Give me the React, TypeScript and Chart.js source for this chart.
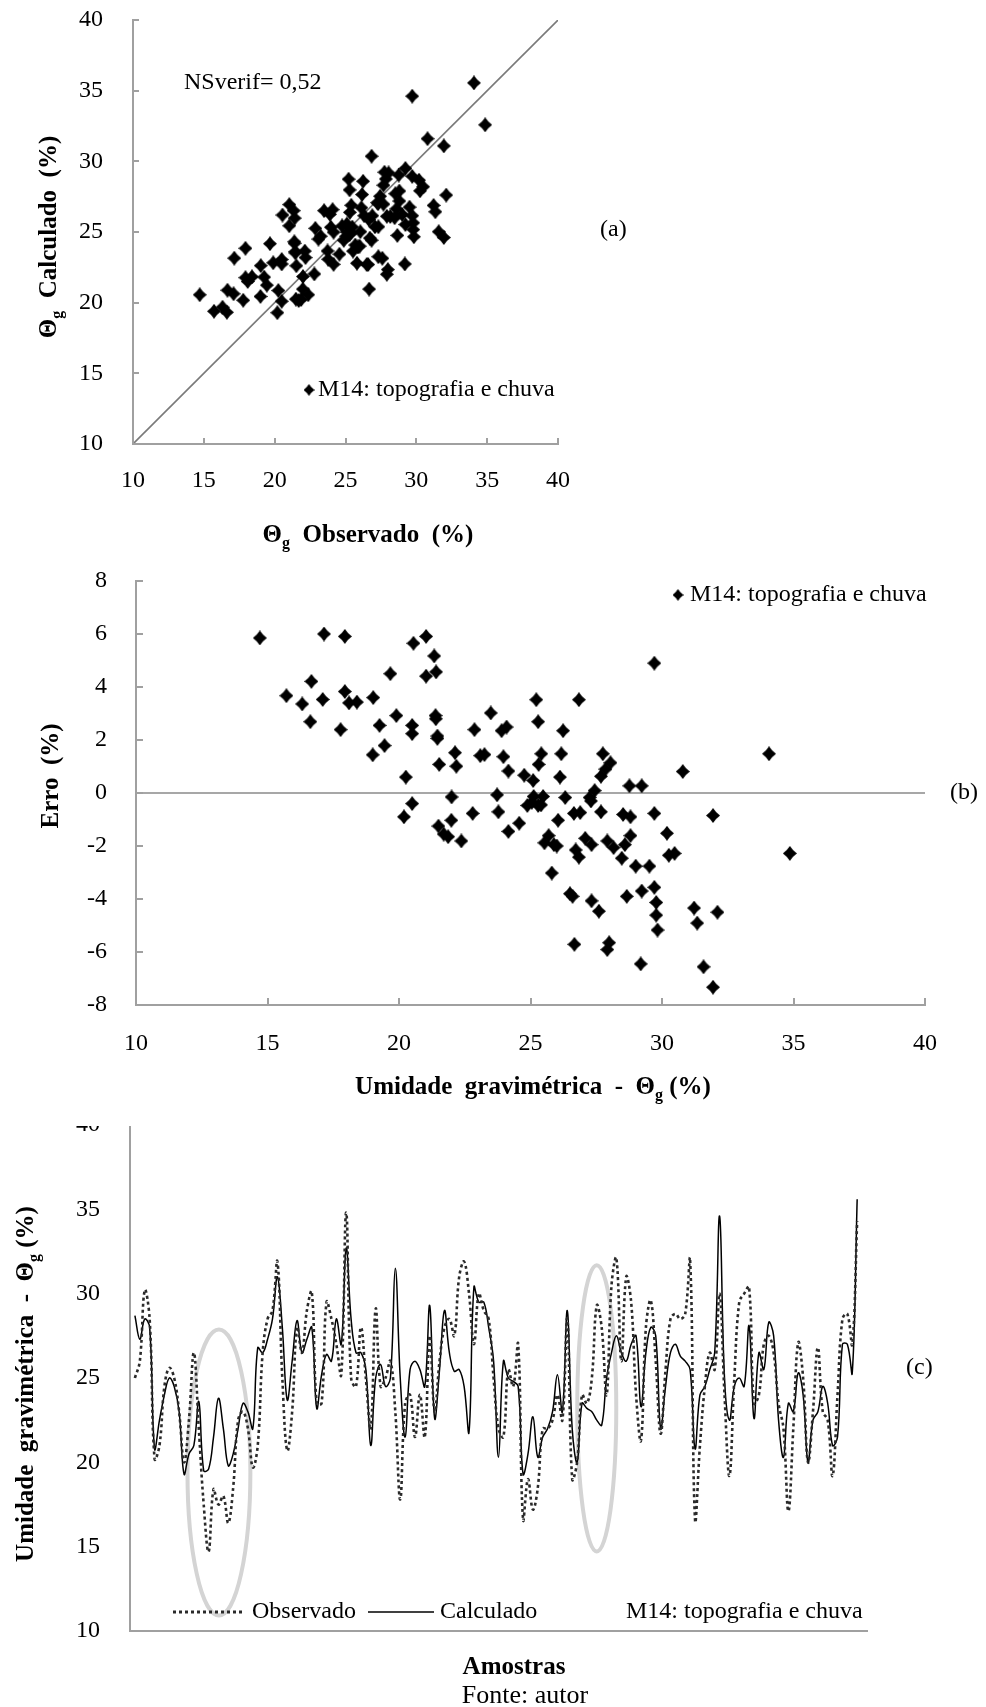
import React, { useEffect, useRef } from 'react';
import { Chart, registerables } from 'chart.js';

Chart.register(...registerables);

const FONT = "'Liberation Serif', 'Times New Roman', Times, serif";

// ---------- DATA ----------
// Observed gravimetric moisture (%) for each sample (charts a and b share it)
const observado = [
  14.71, 15.72, 16.32, 16.63, 16.67, 17.1, 17.15, 17.78, 17.94, 17.94,
  18.1, 18.4, 19.0, 19.02, 19.26, 19.45, 19.67, 19.9, 20.19, 20.26,
  20.5, 20.5, 20.5, 20.55, 21.03, 21.03, 21.34, 21.41, 21.39, 21.4,
  21.46, 21.46, 21.53, 21.5, 21.7, 21.87, 21.99, 22.0, 22.13, 22.18,
  22.37, 22.8, 22.87, 23.09, 23.25, 23.49, 23.73, 23.78, 23.9, 23.97,
  24.09, 24.16, 24.16, 24.57, 24.76, 24.88, 25.1, 25.12, 25.22, 25.29,
  25.31, 25.29, 25.41, 25.48, 25.53, 25.69, 25.81, 25.89, 26.05, 26.12,
  26.17, 26.24, 26.32, 26.5, 26.6, 26.65, 26.67, 26.72, 26.84, 26.84,
  26.89, 27.08, 27.25, 27.32, 27.32, 27.44, 27.6, 27.68, 27.68, 27.75,
  27.85, 27.92, 27.92, 27.99, 28.04, 28.16, 28.47, 28.52, 28.59, 28.66,
  28.76, 28.8, 28.8, 29.0, 29.23, 29.23, 29.19, 29.52, 29.71, 29.71,
  29.71, 29.78, 29.78, 29.83, 30.19, 30.26, 30.48, 30.79, 31.22, 31.34,
  31.58, 31.94, 31.94, 32.11, 34.07, 34.86, 25.05, 25.4, 26.0, 27.3,
];

// Chart (a): calculated moisture (%)
const calculadoA = [
  20.56, 19.39, 19.68, 19.32, 20.88, 20.63, 23.15, 20.17, 23.85, 21.77,
  21.5, 21.83, 20.44, 22.62, 21.81, 21.24, 24.17, 22.82, 19.29, 20.86,
  23.05, 22.74, 20.1, 26.2, 26.94, 25.44, 26.51, 25.98, 24.31, 24.2,
  23.61, 23.52, 22.61, 20.25, 20.15, 20.22, 20.96, 21.85, 23.65, 23.19,
  20.56, 22.03, 25.26, 24.5, 24.7, 26.51, 23.66, 23.07, 26.25, 25.34,
  26.58, 24.99, 22.71, 23.43, 25.43, 24.41, 25.57, 24.99, 28.74, 27.98,
  26.39, 24.82, 26.89, 25.35, 23.65, 24.08, 22.79, 23.94, 25.02, 26.72,
  27.65, 28.59, 26.15, 22.7, 22.7, 25.88, 20.96, 24.57, 24.42, 30.36,
  26.15, 25.37, 27.08, 25.37, 23.25, 27.53, 23.14, 26.97, 28.31, 29.23,
  28.75, 26.11, 22.01, 22.34, 29.18, 26.1, 26.01, 27.71, 26.64, 24.76,
  29.03, 27.19, 27.9, 26.24, 29.5, 25.53, 22.74, 26.76, 34.61, 28.94,
  26.15, 25.65, 25.17, 24.66, 28.67, 27.91, 28.2, 31.6, 26.88, 26.43,
  25.02, 31.09, 24.61, 27.61, 35.55, 32.58, 24.7, 24.95, 24.0, 27.0,
];

// Chart (b): error (%)
const erroB = [
  5.85, 3.67, 3.36, 2.69, 4.21, 3.53, 6.0, 2.39, 5.91, 3.83,
  3.4, 3.43, 1.44, 3.6, 2.55, 1.79, 4.5, 2.92, -0.9, 0.6,
  2.55, 2.24, -0.4, 5.65, 5.91, 4.41, 5.17, 4.57, 2.92, 2.8,
  2.15, 2.06, 1.08, -1.25, -1.55, -1.65, -1.03, -0.15, 1.52, 1.01,
  -1.81, -0.77, 2.39, 1.41, 1.45, 3.02, -0.07, -0.71, 2.35, 1.37,
  2.49, 0.83, -1.45, -1.14, 0.67, -0.47, 0.47, -0.13, 3.52, 2.69,
  1.08, -0.47, 1.48, -0.13, -1.88, -1.61, -3.02, -1.95, -1.03, 0.6,
  1.48, 2.35, -0.17, -3.8, -3.9, -0.77, -5.71, -2.15, -2.42, 3.52,
  -0.74, -1.71, -0.17, -1.95, -4.07, 0.09, -4.46, -0.71, 0.63, 1.48,
  0.9, -1.81, -5.91, -5.65, 1.14, -2.06, -2.46, -0.81, -1.95, -3.9,
  0.27, -1.61, -0.9, -2.76, 0.27, -3.7, -6.45, -2.76, 4.9, -0.77,
  -3.56, -4.13, -4.61, -5.17, -1.52, -2.35, -2.28, 0.81, -4.34, -4.91,
  -6.56, -0.85, -7.33, -4.5, 1.48, -2.28, -0.35, -0.45, -2.0, -0.3,
];

// Chart (c): series per sample
const serieObservado = [
  25.0, 26.0, 30.2, 28.5, 20.2, 21.0, 24.5, 25.6, 25.0, 23.0,
  20.0, 22.5, 26.5, 22.0, 17.5, 14.7, 18.4, 17.5, 18.0, 16.4,
  18.5, 22.5, 23.0, 22.0, 19.7, 21.0, 26.5, 28.5, 29.0, 31.9,
  25.0, 20.7, 23.0, 28.0, 26.5, 29.0, 30.1, 23.5, 23.5, 29.5,
  28.5, 27.0, 25.2, 34.8, 25.0, 24.5, 28.0, 25.0, 22.0, 29.1,
  24.5, 25.0, 26.0, 23.0, 17.8, 23.5, 24.0, 21.5, 24.0, 21.5,
  27.5, 23.0, 26.0, 28.0, 28.5, 27.5, 31.0, 31.9, 30.0, 27.0,
  30.0, 29.0, 28.5, 25.0, 22.0, 21.5, 25.5, 24.5, 27.0, 16.6,
  19.0, 17.2, 18.5, 22.0, 22.0, 22.5, 24.0, 22.5, 28.5, 19.0,
  20.0, 24.0, 23.5, 25.0, 29.3, 28.0, 24.0, 30.5, 32.1, 26.0,
  31.0, 29.5, 24.0, 21.3, 28.0, 29.6, 26.0, 21.7, 25.5, 28.5,
  28.8, 28.5, 28.8, 32.0, 16.6, 21.0, 24.5, 26.5, 25.5, 30.0,
  24.0, 19.2, 25.0, 29.5, 30.0, 30.4, 23.5, 24.0, 27.0, 27.5,
  26.5, 23.5, 22.0, 17.1, 22.0, 27.1, 25.0, 20.0, 23.0, 26.8,
  23.0, 22.5, 19.2, 24.0, 28.5, 28.8, 27.0, 34.3,
];
const serieCalculado = [
  28.7, 27.3, 28.5, 28.0, 20.8, 22.5, 24.0, 25.0, 24.5, 23.0,
  19.3, 20.5, 21.0, 23.6, 19.5, 19.6, 21.5, 23.8, 22.0, 19.8,
  20.5, 22.0, 23.5, 23.0, 22.0, 26.8, 26.5, 27.3, 28.5, 31.0,
  28.0, 23.7, 26.0, 28.4, 26.5, 27.3, 28.0, 23.2, 25.2, 26.4,
  26.0, 28.5, 27.0, 32.7, 28.5, 26.5, 26.5, 25.5, 21.0, 25.0,
  25.8, 24.5, 25.0, 31.5, 25.0, 21.5, 25.5, 26.0, 25.5, 24.5,
  29.3, 22.6, 25.5, 29.0, 26.5, 25.4, 25.5, 24.5, 21.8, 30.4,
  29.5, 29.5, 28.0, 26.0, 20.3, 26.0, 25.0, 24.8, 24.5, 19.3,
  20.5, 22.7, 20.3, 21.5, 22.0, 23.0, 25.2, 23.0, 29.0, 22.0,
  20.0, 23.5, 23.2, 23.0, 22.5, 22.2, 25.0, 26.5, 27.5, 26.5,
  26.0, 27.0, 27.5, 23.3, 26.5, 28.0, 27.5, 22.0, 24.5, 26.5,
  27.0, 26.3, 26.0, 25.5, 20.8, 24.0, 24.5, 25.5, 26.5, 34.6,
  25.0, 22.5, 24.5, 25.0, 24.5, 28.1, 22.6, 26.5, 25.5, 28.3,
  27.5, 22.5, 20.3, 23.5, 23.0, 25.3, 24.0, 20.0, 22.5, 23.0,
  24.5, 23.5, 21.0, 21.5, 27.0, 27.0, 25.3, 35.6,
];

const ticksA = [10, 15, 20, 25, 30, 35, 40];
const ticksBy = [-8, -6, -4, -2, 0, 2, 4, 6, 8];
const ticksC = [10, 15, 20, 25, 30, 35, 40];

// highlighted regions in (c): [center sample, center value, half-width samples, half-height value]
const destaquesC = [
  [18.1, 19.4, 6.4, 8.48],
  [95.0, 23.2, 3.97, 8.48],
];

// ---------- helpers ----------
type Part = { t: string; sub?: boolean };
type TextItem = {
  parts: Part[];
  x: number;
  y: number;
  size: number;
  bold?: boolean;
  align?: 'left' | 'center' | 'right';
  rot?: number;
};
type Seg = { x1: number; x2: number; y: number; dash?: number[]; width: number; color: string };
type StarMark = { x: number; y: number };

function makeStar(w: number, h: number): HTMLCanvasElement {
  const c = document.createElement('canvas');
  c.width = w;
  c.height = h;
  const ctx = c.getContext('2d')!;
  const cx = w / 2;
  const cy = h / 2;
  const k = 0.2;
  ctx.beginPath();
  ctx.moveTo(cx, 0);
  ctx.quadraticCurveTo(cx + w * k, cy - h * k, w, cy);
  ctx.quadraticCurveTo(cx + w * k, cy + h * k, cx, h);
  ctx.quadraticCurveTo(cx - w * k, cy + h * k, 0, cy);
  ctx.quadraticCurveTo(cx - w * k, cy - h * k, cx, 0);
  ctx.closePath();
  ctx.fillStyle = '#000';
  ctx.fill();
  return c;
}

function drawRich(ctx: CanvasRenderingContext2D, it: TextItem, offY: number) {
  ctx.save();
  ctx.translate(it.x, it.y - offY);
  if (it.rot) ctx.rotate(it.rot);
  ctx.textBaseline = 'middle';
  ctx.textAlign = 'left';
  ctx.fillStyle = '#000';
  const fontFor = (p: Part) =>
    `${it.bold ? 'bold ' : ''}${p.sub ? Math.round(it.size * 0.65) : it.size}px ${FONT}`;
  let total = 0;
  const widths = it.parts.map((p) => {
    ctx.font = fontFor(p);
    const w = ctx.measureText(p.t).width;
    total += w;
    return w;
  });
  let x = it.align === 'left' ? 0 : it.align === 'right' ? -total : -total / 2;
  it.parts.forEach((p, i) => {
    ctx.font = fontFor(p);
    ctx.fillText(p.t, x, p.sub ? it.size * 0.3 : 0);
    x += widths[i];
  });
  ctx.restore();
}

function makeDecor(cfg: {
  offY: number;
  texts: TextItem[];
  stars?: StarMark[];
  starImg?: HTMLCanvasElement;
  segs?: Seg[];
  xTicks?: number[];
  yTicks?: number[];
  tickLen?: number;
  ellipses?: number[][];
}) {
  return {
    id: 'decor',
    beforeDatasetsDraw(chart: any) {
      if (!cfg.ellipses) return;
      const ctx = chart.ctx as CanvasRenderingContext2D;
      const xs = chart.scales.x;
      const ys = chart.scales.y;
      ctx.save();
      ctx.strokeStyle = '#d4d4d4';
      ctx.lineWidth = 4;
      cfg.ellipses.forEach(([cx, cy, rx, ry]) => {
        const px = xs.getPixelForValue(cx);
        const py = ys.getPixelForValue(cy);
        const prx = Math.abs(xs.getPixelForValue(cx + rx) - px);
        const pry = Math.abs(ys.getPixelForValue(cy + ry) - py);
        ctx.beginPath();
        ctx.ellipse(px, py, prx, pry, 0, 0, Math.PI * 2);
        ctx.stroke();
      });
      ctx.restore();
    },
    afterDraw(chart: any) {
      const ctx = chart.ctx as CanvasRenderingContext2D;
      const xs = chart.scales.x;
      const ys = chart.scales.y;
      const area = chart.chartArea;
      const len = cfg.tickLen ?? 6;
      ctx.save();
      ctx.strokeStyle = '#a0a0a0';
      ctx.lineWidth = 2;
      if (len > 0) {
        (cfg.xTicks || []).forEach((v) => {
          const px = Math.round(xs.getPixelForValue(v));
          ctx.beginPath();
          ctx.moveTo(px, area.bottom);
          ctx.lineTo(px, area.bottom - len);
          ctx.stroke();
        });
        (cfg.yTicks || []).forEach((v) => {
          const py = Math.round(ys.getPixelForValue(v));
          ctx.beginPath();
          ctx.moveTo(area.left, py);
          ctx.lineTo(area.left + len, py);
          ctx.stroke();
        });
      }
      (cfg.segs || []).forEach((s) => {
        ctx.save();
        ctx.strokeStyle = s.color;
        ctx.lineWidth = s.width;
        ctx.setLineDash(s.dash || []);
        ctx.beginPath();
        ctx.moveTo(s.x1, s.y - cfg.offY);
        ctx.lineTo(s.x2, s.y - cfg.offY);
        ctx.stroke();
        ctx.restore();
      });
      if (cfg.starImg) {
        const im = cfg.starImg;
        (cfg.stars || []).forEach((s) => {
          ctx.drawImage(im, s.x - im.width / 2, s.y - cfg.offY - im.height / 2);
        });
      }
      cfg.texts.forEach((t) => drawRich(ctx, t, cfg.offY));
      ctx.restore();
    },
  };
}

const tickFont = { family: FONT, size: 24 };
const borderStyle = { color: '#a0a0a0', width: 2 };

function fixX(h: number) {
  return (s: any) => {
    s.height = h;
    s.paddingLeft = 0;
    s.paddingRight = 0;
  };
}
function fixY(w: number) {
  return (s: any) => {
    s.width = w;
    s.paddingTop = 0;
    s.paddingBottom = 0;
  };
}

const TITLE_SIZE = 25;
const umidadeParts: Part[] = [
  { t: 'Umidade  gravimétrica  -  Θ' },
  { t: 'g', sub: true },
  { t: ' (%)' },
];

// chart (c) canvas placement: canvas top, and where it is visibly cut
const C_TOP = 1122;
const C_CLIP = 1126;

export default function App() {
  const refA = useRef<HTMLCanvasElement>(null);
  const refB = useRef<HTMLCanvasElement>(null);
  const refC = useRef<HTMLCanvasElement>(null);

  useEffect(() => {
    const star = makeStar(14, 15);
    const starSmall = makeStar(11, 12);

    const chartA = new Chart(refA.current!, {
      type: 'scatter',
      data: {
        datasets: [
          {
            label: 'M14: topografia e chuva',
            data: observado.map((x, i) => ({ x, y: calculadoA[i] })),
            pointStyle: star as any,
            pointRadius: 7,
            backgroundColor: '#000',
            borderColor: '#000',
          },
          {
            label: '1:1',
            data: [
              { x: 10, y: 10 },
              { x: 40, y: 40 },
            ],
            showLine: true,
            pointRadius: 0,
            borderColor: '#7a7a7a',
            borderWidth: 1.6,
          },
        ],
      },
      options: {
        animation: false,
        responsive: false,
        devicePixelRatio: 1,
        layout: { padding: { left: 0, top: 20, right: 428, bottom: 56 } },
        plugins: { legend: { display: false }, tooltip: { enabled: false } },
        scales: {
          x: {
            type: 'linear',
            min: 10,
            max: 40,
            ticks: { stepSize: 5, font: tickFont, color: '#000', padding: 14, maxRotation: 0 },
            grid: { display: false },
            border: borderStyle,
            afterFit: fixX(60),
          },
          y: {
            type: 'linear',
            min: 10,
            max: 40,
            ticks: { stepSize: 5, font: tickFont, color: '#000', padding: 22 },
            grid: { display: false },
            border: borderStyle,
            afterFit: fixY(133),
          },
        },
      },
      plugins: [
        makeDecor({
          offY: 0,
          xTicks: ticksA,
          yTicks: ticksA,
          tickLen: 6,
          starImg: starSmall,
          stars: [{ x: 309, y: 390 }],
          texts: [
            { parts: [{ t: 'NSverif= 0,52' }], x: 184, y: 83, size: 24, align: 'left' },
            { parts: [{ t: 'M14: topografia e chuva' }], x: 318, y: 390, size: 24, align: 'left' },
            { parts: [{ t: '(a)' }], x: 600, y: 230, size: 24, align: 'left' },
            {
              parts: [{ t: 'Θ' }, { t: 'g', sub: true }, { t: '  Observado  (%)' }],
              x: 368,
              y: 536,
              size: TITLE_SIZE,
              bold: true,
            },
            {
              parts: [{ t: 'Θ' }, { t: 'g', sub: true }, { t: '  Calculado  (%)' }],
              x: 50,
              y: 237,
              size: TITLE_SIZE,
              bold: true,
              rot: -Math.PI / 2,
            },
          ],
        }) as any,
      ],
    });

    const chartB = new Chart(refB.current!, {
      type: 'scatter',
      data: {
        datasets: [
          {
            label: 'M14: topografia e chuva',
            data: observado.map((x, i) => ({ x, y: erroB[i] })),
            pointStyle: star as any,
            pointRadius: 7,
            backgroundColor: '#000',
            borderColor: '#000',
          },
          {
            label: 'zero',
            data: [
              { x: 10, y: 0 },
              { x: 40, y: 0 },
            ],
            showLine: true,
            pointRadius: 0,
            borderColor: '#8a8a8a',
            borderWidth: 1.6,
          },
        ],
      },
      options: {
        animation: false,
        responsive: false,
        devicePixelRatio: 1,
        layout: { padding: { left: 0, top: 21, right: 61, bottom: 45 } },
        plugins: { legend: { display: false }, tooltip: { enabled: false } },
        scales: {
          x: {
            type: 'linear',
            min: 10,
            max: 40,
            ticks: { stepSize: 5, font: tickFont, color: '#000', padding: 16, maxRotation: 0 },
            grid: { display: false },
            border: borderStyle,
            afterFit: fixX(60),
          },
          y: {
            type: 'linear',
            min: -8,
            max: 8,
            ticks: { stepSize: 2, font: tickFont, color: '#000', padding: 21 },
            grid: { display: false },
            border: borderStyle,
            afterFit: fixY(136),
          },
        },
      },
      plugins: [
        makeDecor({
          offY: 560,
          xTicks: ticksA,
          yTicks: ticksBy,
          tickLen: 7,
          starImg: starSmall,
          stars: [{ x: 678, y: 595 }],
          texts: [
            { parts: [{ t: 'M14: topografia e chuva' }], x: 690, y: 595, size: 24, align: 'left' },
            { parts: [{ t: '(b)' }], x: 950, y: 793, size: 24, align: 'left' },
            { parts: umidadeParts, x: 533, y: 1088, size: TITLE_SIZE, bold: true },
            {
              parts: [{ t: 'Erro  (%)' }],
              x: 52,
              y: 776,
              size: TITLE_SIZE,
              bold: true,
              rot: -Math.PI / 2,
            },
          ],
        }) as any,
      ],
    });

    const chartC = new Chart(refC.current!, {
      type: 'line',
      data: {
        datasets: [
          {
            label: 'Observado',
            data: serieObservado.map((y, i) => ({ x: i + 1, y })),
            borderColor: '#2a2a2a',
            borderWidth: 2.6,
            borderDash: [3, 3],
            pointRadius: 0,
            tension: 0.4,
            fill: false,
          },
          {
            label: 'Calculado',
            data: serieCalculado.map((y, i) => ({ x: i + 1, y })),
            borderColor: '#000',
            borderWidth: 1.5,
            pointRadius: 0,
            tension: 0.4,
            fill: false,
          },
        ],
      },
      options: {
        animation: false,
        responsive: false,
        devicePixelRatio: 1,
        layout: { padding: { left: 0, top: 1125 - C_TOP, right: 119, bottom: 1707 - C_TOP - (1631 - C_TOP) - 40 } },
        plugins: { legend: { display: false }, tooltip: { enabled: false } },
        scales: {
          x: {
            type: 'linear',
            min: 0,
            max: 150,
            ticks: { display: false },
            grid: { display: false },
            border: borderStyle,
            afterFit: fixX(40),
          },
          y: {
            type: 'linear',
            min: 10,
            max: 40,
            ticks: { stepSize: 5, font: tickFont, color: '#000', padding: 22 },
            grid: { display: false },
            border: borderStyle,
            afterFit: fixY(130),
          },
        },
      },
      plugins: [
        makeDecor({
          offY: C_TOP,
          ellipses: destaquesC,
          yTicks: ticksC,
          tickLen: 0,
          segs: [
            { x1: 173, x2: 243, y: 1612, dash: [3, 3], width: 3, color: '#2a2a2a' },
            { x1: 368, x2: 434, y: 1612, width: 1.6, color: '#000' },
          ],
          texts: [
            { parts: [{ t: 'Observado' }], x: 252, y: 1612, size: 24, align: 'left' },
            { parts: [{ t: 'Calculado' }], x: 440, y: 1612, size: 24, align: 'left' },
            { parts: [{ t: 'M14: topografia e chuva' }], x: 626, y: 1612, size: 24, align: 'left' },
            { parts: [{ t: '(c)' }], x: 906, y: 1368, size: 24, align: 'left' },
            {
              parts: umidadeParts,
              x: 27,
              y: 1384,
              size: TITLE_SIZE,
              bold: true,
              rot: -Math.PI / 2,
            },
            { parts: [{ t: 'Amostras' }], x: 514, y: 1668, size: TITLE_SIZE, bold: true },
            { parts: [{ t: 'Fonte: autor' }], x: 525, y: 1696, size: 26 },
          ],
        }) as any,
      ],
    });

    return () => {
      chartA.destroy();
      chartB.destroy();
      chartC.destroy();
    };
  }, []);

  const cv = (top: number, h: number): React.CSSProperties => ({
    position: 'absolute',
    left: 0,
    top,
    width: 986,
    height: h,
  });

  const cH = 1707 - C_TOP;

  return (
    <div
      style={{
        position: 'absolute',
        left: 0,
        top: 0,
        width: 986,
        height: 1707,
        background: '#fff',
        overflow: 'hidden',
      }}
    >
      <canvas ref={refA} width={986} height={560} style={cv(0, 560)} />
      <canvas ref={refB} width={986} height={550} style={cv(560, 550)} />
      <div
        style={{
          position: 'absolute',
          left: 0,
          top: C_CLIP,
          width: 986,
          height: 1707 - C_CLIP,
          overflow: 'hidden',
        }}
      >
        <canvas ref={refC} width={986} height={cH} style={cv(C_TOP - C_CLIP, cH)} />
      </div>
    </div>
  );
}
